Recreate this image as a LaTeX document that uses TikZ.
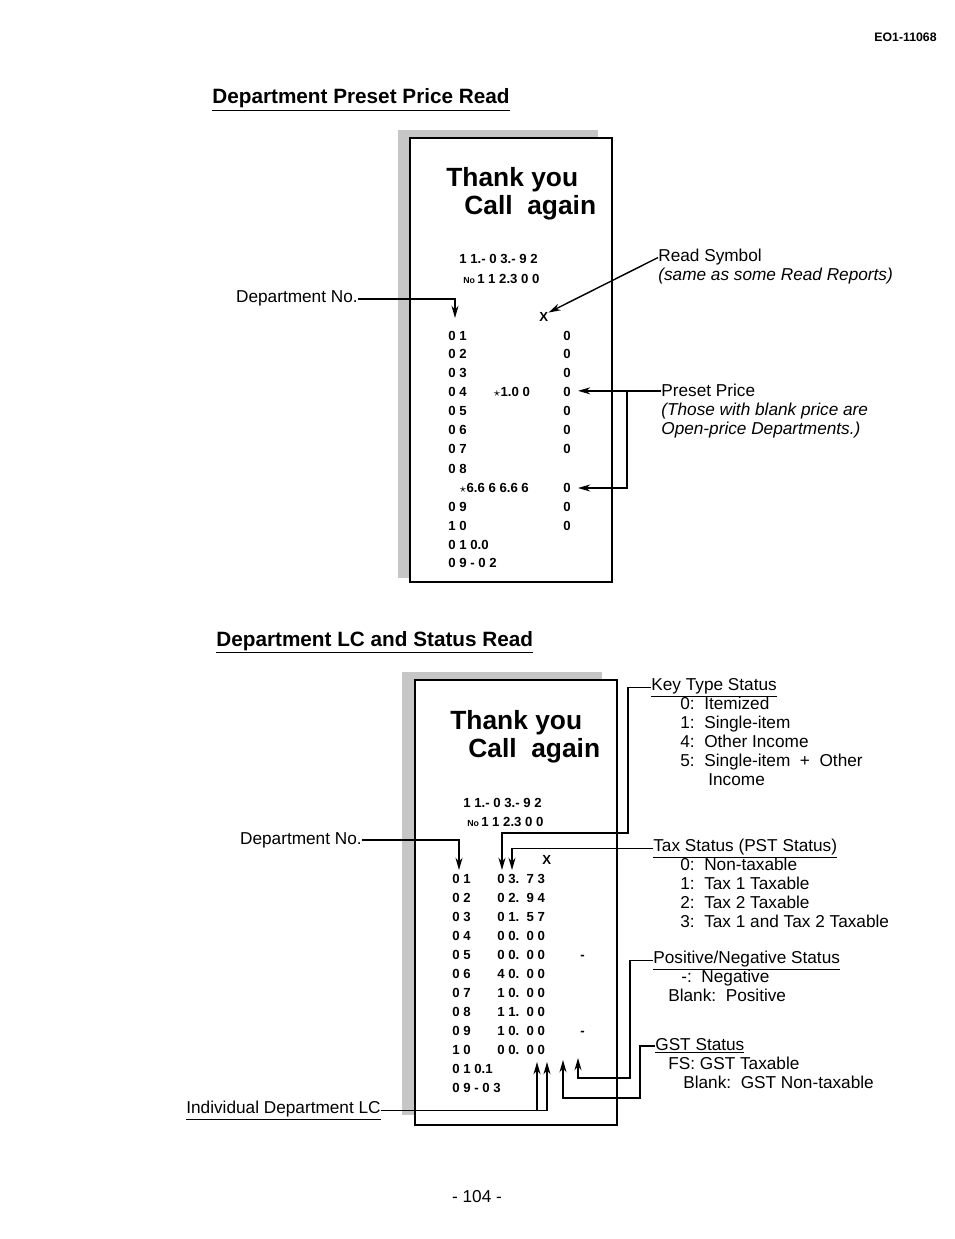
\documentclass[tikz,border=0pt]{standalone}
\usepackage{fontspec}
\setmainfont{Liberation Sans}
\usetikzlibrary{arrows.meta}
\tikzset{
  lbl/.style={anchor=base west,inner sep=0pt,font=\fontsize{9.8}{12}\selectfont},
  rc/.style={anchor=base west,inner sep=0pt,font=\bfseries\fontsize{7.5}{9}\selectfont},
  ttl/.style={anchor=base west,inner sep=0pt,font=\bfseries\fontsize{11.8}{14}\selectfont},
  big/.style={anchor=base west,inner sep=0pt,font=\bfseries\fontsize{15}{18}\selectfont},
  arr/.style={-{Stealth[length=7pt,width=4pt]},line width=0.8pt},
  ln/.style={line width=0.8pt}
}
\begin{document}
\begin{tikzpicture}[x=0.02cm,y=-0.02cm]
\useasboundingbox (0,0) rectangle (954,1239);
\node[anchor=base east,inner sep=0pt,font=\bfseries\fontsize{7}{8}\selectfont] (doc) at (937,42) {EO1-11068};
\node[anchor=base,inner sep=0pt,font=\fontsize{9.8}{12}\selectfont] (pg) at (477,1202) {- 104 -};

%Receipt 1
\node[ttl] (t1) at (212,104) {\underline{Department Preset Price Read}};
\fill[gray!45] (398,130) rectangle (598,138);
\fill[gray!45] (398,130) rectangle (410,578);
\draw[ln] (410,138) rectangle (612,582);
\node[big] (ty1) at (446,187) {Thank you};
\node[big] (ca1) at (464,215) {Call\ \ again};
\node[rc] (d1) at (459,264) {1 1.- 0 3.- 9 2};
\node[rc] (n1) at (463,284) {{\tiny No}\,1 1 2.3 0 0};
\node[rc] (x1) at (539,322) {X};
\foreach \y/\a/\b/\c in {337/0 1//0,355/0 2//0,374/0 3//0,393/0 4/$\star$1.0 0/0,412/0 5//0,431/0 6//0,450/0 7//0,469/0 8//,507/0 9//0,526/1 0//0,545/0 1 0.0//,563/0 9 - 0 2//}{
  \node[rc] at (448,\y+4) {\a};
  \node[rc] at (493,\y+4) {\b};
  \node[rc] at (563,\y+4) {\c};
}
\node[rc] (r8) at (459,492) {$\star$6.6 6 6.6 6};
\node[rc] (z8) at (563,492) {0};

\node[lbl,anchor=base east] (dn1) at (358,303) {Department No.};
\draw[arr] (dn1.east) -- ++(5,0) -| (455,318);
\node[lbl] (rs) at (658,262) {Read Symbol};
\node[lbl] (rs2) at (658,281) {\itshape(same as some Read Reports)};
\draw[arr] (rs.west) -- (x1.north east);
\node[lbl] (pp) at (661,397) {Preset Price};
\node[lbl] (pp2) at (661,416) {\itshape(Those with blank price are};
\node[lbl] (pp3) at (661,435) {\itshape Open-price Departments.)};
\draw[arr] (pp.west) -- (pp.west -| 578,0);
\draw[arr] (pp.west -| 627,0) -- (627,488) -- (578,488);

%Receipt 2
\node[ttl] (t2) at (216,646) {\underline{Department LC and Status Read}};
\fill[gray!45] (402,672) rectangle (602,680);
\fill[gray!45] (402,672) rectangle (414,1115);
\draw[ln] (415,680) rectangle (617,1125);
\node[big] (ty2) at (450,729) {Thank you};
\node[big] (ca2) at (468,757) {Call\ \ again};
\node[rc] (d2) at (463,807) {1 1.- 0 3.- 9 2};
\node[rc] (n2) at (467,826) {{\tiny No}\,1 1 2.3 0 0};
\node[rc] (x2) at (542,864) {X};
\foreach \y/\a/\b/\c in {879/0 1/0 3.\ \ 7 3/,898/0 2/0 2.\ \ 9 4/,917/0 3/0 1.\ \ 5 7/,936/0 4/0 0.\ \ 0 0/,955/0 5/0 0.\ \ 0 0/-,974/0 6/4 0.\ \ 0 0/,993/0 7/1 0.\ \ 0 0/,1012/0 8/1 1.\ \ 0 0/,1031/0 9/1 0.\ \ 0 0/-,1050/1 0/0 0.\ \ 0 0/,1069/0 1 0.1//,1088/0 9 - 0 3//}{
  \node[rc] at (452,\y+4) {\a};
  \node[rc] at (497,\y+4) {\b};
  \node[rc] at (580,\y+4) {\c};
}

\node[lbl,anchor=base east] (dn2) at (362,844) {Department No.};
\draw[arr] (dn2.east) -- ++(5,0) -| (459,870);
\node[lbl] (kt) at (651,690) {\underline{Key Type Status}};
\node[lbl] at (680,709) {0:\ \ Itemized};
\node[lbl] at (680,728) {1:\ \ Single-item};
\node[lbl] at (680,747) {4:\ \ Other Income};
\node[lbl] at (680,766) {5:\ \ Single-item\ \ +\ \ Other};
\node[lbl] at (708,785) {Income};
\draw[arr] (kt.west) -- ++(-23,0) |- (502,833) -- (502,870);
\node[lbl] (tx) at (653,851) {\underline{Tax Status (PST Status)}};
\node[lbl] at (680,870) {0:\ \ Non-taxable};
\node[lbl] at (680,889) {1:\ \ Tax 1 Taxable};
\node[lbl] at (680,908) {2:\ \ Tax 2 Taxable};
\node[lbl] at (680,927) {3:\ \ Tax 1 and Tax 2 Taxable};
\draw[arr] (tx.west) -| (512,870);
\node[lbl] (pn) at (653,963) {\underline{Positive/Negative Status}};
\node[lbl] at (681,982) {-:\ \ Negative};
\node[lbl] at (668,1001) {Blank:\ \ Positive};
\draw[arr] (pn.west) -- ++(-23,0) |- (578,1078) -- (578,1058);
\node[lbl] (gs) at (655,1050) {\underline{GST Status}};
\node[lbl] at (668,1069) {FS: GST Taxable};
\node[lbl] at (683,1088) {Blank:\ \ GST Non-taxable};
\draw[arr] (gs.west) -- ++(-15,0) |- (563,1098) -- (563,1060);
\node[lbl,anchor=base east] (lc) at (381,1113) {\underline{Individual Department LC}};
\draw[ln] (lc.east) -| (547,1108);
\draw[arr] (lc.east -| 537,0) -- (537,1062);
\draw[arr] (lc.east -| 547,0) -- (547,1062);
\end{tikzpicture}
\end{document}
